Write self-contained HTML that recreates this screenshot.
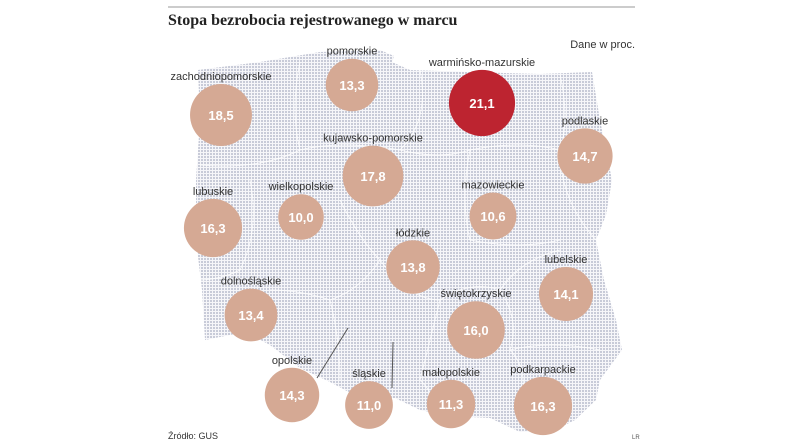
<!DOCTYPE html>
<html><head><meta charset="utf-8"><style>
html,body{margin:0;padding:0;background:#fff;width:805px;height:441px;overflow:hidden}
svg{display:block}
text{font-family:"Liberation Sans",sans-serif}
</style></head><body>
<svg id="c" width="805" height="441">
<defs>
<pattern id="dots" width="3" height="3" patternUnits="userSpaceOnUse">
<rect width="3" height="3" fill="#f6f6f9"/><rect width="2" height="2" fill="#c8cbd8"/>
</pattern>
</defs>
<line x1="168" y1="7" x2="635" y2="7" stroke="#999" stroke-width="1"/>
<text x="168" y="25" font-weight="bold" font-size="16" fill="#222" style="font-family:'Liberation Serif',serif">Stopa bezrobocia rejestrowanego w marcu</text>
<text x="635" y="48" text-anchor="end" font-size="11" fill="#333">Dane w proc.</text>
<path fill="url(#dots)" d="M198,70 L260,62 L320,52 L380,50 L394,56 L392,62 L410,70 L470,72 L540,74 L592,72 L600,120 L612,180 L606,215 L596,240 L604,280 L616,320 L622,350 L600,380 L596,400 L575,420 L555,430 L520,432 L490,418 L450,416 L420,410 L395,398 L360,398 L330,382 L300,368 L270,345 L245,332 L205,340 L202,290 L196,240 L196,180 L200,120 Z"/>
<g stroke="#fff" stroke-width="1" fill="none" opacity="0.8">
<path d="M300,62 Q290,110 300,150 Q260,170 200,165"/>
<path d="M300,150 Q340,140 400,150 Q430,120 420,70"/>
<path d="M400,150 Q440,160 470,150 Q520,140 560,150 Q570,120 560,74"/>
<path d="M560,150 Q560,200 596,240"/>
<path d="M470,150 Q460,200 470,240 Q520,250 560,240"/>
<path d="M250,180 Q260,230 240,270 Q220,280 198,280"/>
<path d="M340,200 Q360,240 380,260 Q360,290 330,300 Q300,290 270,290"/>
<path d="M380,260 Q410,300 440,300 Q470,280 500,290 Q520,260 560,250"/>
<path d="M330,300 Q340,340 340,380"/>
<path d="M440,300 Q430,340 420,380 Q440,400 430,410"/>
<path d="M500,290 Q520,320 510,350 Q530,370 520,410 M510,350 Q550,340 600,350"/>
</g>
<line x1="317" y1="378" x2="348" y2="328" stroke="#555" stroke-width="1"/>
<line x1="392" y1="388" x2="393" y2="342" stroke="#555" stroke-width="1"/>
<g id="bubbles"></g>
<text x="168" y="439" font-size="9" fill="#333">Źródło: GUS</text>
<text x="632" y="439" font-size="6" fill="#555">LR</text>
</svg>
<script>
const regions=["zachodniopomorskie","pomorskie","warmińsko-mazurskie","podlaskie","kujawsko-pomorskie","lubuskie","wielkopolskie","mazowieckie","łódzkie","lubelskie","dolnośląskie","świętokrzyskie","opolskie","śląskie","małopolskie","podkarpackie"];
const values=[18.5,13.3,21.1,14.7,17.8,16.3,10.0,10.6,13.8,14.1,13.4,16.0,14.3,11.0,11.3,16.3];
const labels=["18,5","13,3","21,1","14,7","17,8","16,3","10,0","10,6","13,8","14,1","13,4","16,0","14,3","11,0","11,3","16,3"];
const mapX=[221,352,482,585,373,213,301,493,413,566,251,476,292,369,451,543];
const mapY=[115,85,103,156,176,228,217,216,267,294,315,330,395,405,404,406];
function rScale(v){return 7.2*Math.sqrt(v);}
const g=document.getElementById('bubbles');
const NS='http://www.w3.org/2000/svg';
const maxV=Math.max(...values);
regions.forEach((name,i)=>{
  const r=rScale(values[i]);
  const c=document.createElementNS(NS,'circle');
  c.setAttribute('cx',mapX[i]);c.setAttribute('cy',mapY[i]);c.setAttribute('r',r);
  c.setAttribute('fill',values[i]===maxV?'#bd2430':'#d5a994');
  
  
  g.appendChild(c);
  const t=document.createElementNS(NS,'text');
  t.setAttribute('x',mapX[i]);t.setAttribute('y',mapY[i]+5);
  t.setAttribute('text-anchor','middle');t.setAttribute('font-size','13');
  t.setAttribute('font-weight','bold');t.setAttribute('fill','#fff');
  t.textContent=labels[i];
  
  
  g.appendChild(t);
  const n=document.createElementNS(NS,'text');
  n.setAttribute('x',mapX[i]);n.setAttribute('y',mapY[i]-r-4);
  n.setAttribute('text-anchor','middle');n.setAttribute('font-size','11');
  n.setAttribute('fill','#333');
  n.textContent=name;
  
  
  g.appendChild(n);
});
</script>
</body></html>
